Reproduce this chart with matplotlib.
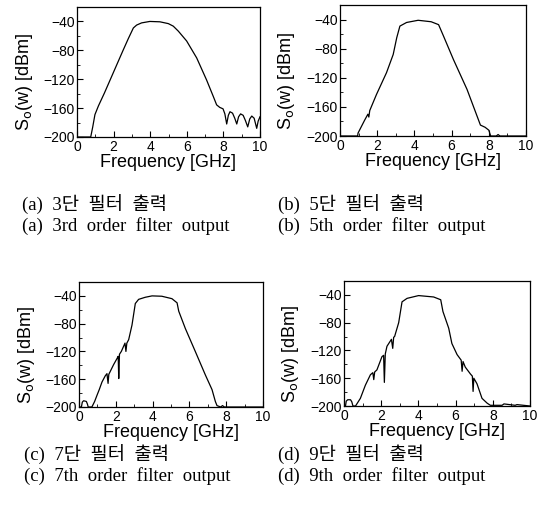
import matplotlib
matplotlib.use("Agg")
from matplotlib import pyplot as plt
from matplotlib.ticker import MultipleLocator

# panel (a) 3rd order
freq_a = [0, 0.75, 0.86, 0.98, 1.17, 1.5, 2.0, 2.5, 2.8, 3.08, 3.26, 3.53, 3.98, 4.53, 4.99, 5.26,
          5.54, 5.99, 6.54, 7.08, 7.45, 7.63, 7.8, 7.98, 8.08, 8.18, 8.27, 8.36, 8.5, 8.62, 8.73,
          8.83, 8.94, 9.08, 9.2, 9.33, 9.44, 9.55, 9.68, 9.82, 9.9, 10]
level_a = [-200, -200, -186, -169, -157, -139, -110, -81, -64, -49, -45, -42, -40, -40.5, -43, -46.5,
           -53.5, -67, -90.5, -121, -144, -155.5, -159, -161, -168, -182, -170, -165, -167, -174, -182,
           -172, -168, -170, -177, -186, -175, -171, -174, -188, -178, -172]

# panel (b) 5th order
freq_b = [0, 0.95, 0.97, 1.05, 1.15, 1.33, 1.5, 1.55, 1.6, 1.96, 2.5, 2.86, 3.05, 3.22, 3.58, 4.2,
          4.9, 5.3, 5.57, 6.1, 6.83, 7.55, 7.8, 8.0, 8.1, 8.4, 8.5, 8.6, 10]
level_b = [-200, -200, -196, -192, -187, -178, -170, -174, -165, -143, -113, -88, -65, -49, -44, -41,
           -43, -47, -63, -95, -136, -185, -188, -192, -200, -200, -198, -200, -200]

# panel (c) 7th order
freq_c = [0, 0.13, 0.18, 0.25, 0.4, 0.46, 0.5, 0.7, 0.85, 0.98, 1.1, 1.25, 1.43, 1.52, 1.58, 1.62,
          1.88, 2.07, 2.13, 2.16, 2.2, 2.3, 2.5, 2.55, 2.6, 2.7, 2.88, 3.06, 3.24, 3.6, 3.97, 4.5,
          5.05, 5.33, 5.42, 5.78, 6.32, 6.87, 7.23, 7.41, 7.5, 7.7, 7.8, 7.9, 10]
level_c = [-200, -200, -193, -191, -192, -196, -200, -200, -192, -183, -175, -164, -155, -152, -166, -153,
           -139, -130, -127, -159, -124, -120, -108, -120, -108, -103, -82, -51, -45, -42, -40, -40.5,
           -44, -50, -62, -87, -120, -154, -175, -192, -198, -200, -198, -200, -200]

# panel (d) 9th order
freq_d = [0, 0.08, 0.12, 0.2, 0.35, 0.42, 0.48, 0.62, 0.88, 1.15, 1.42, 1.55, 1.6, 1.65, 1.77, 2.04,
          2.13, 2.17, 2.22, 2.31, 2.55, 2.62, 2.67, 2.72, 2.94, 3.12, 3.39, 4.01, 4.82, 5.2, 5.32,
          5.63, 5.8, 6.08, 6.3, 6.35, 6.4, 6.52, 6.8, 6.9, 6.94, 6.98, 7.15, 7.42, 7.7, 7.87, 8.5,
          8.6, 9.2, 9.3, 10]
level_d = [-200, -200, -193, -191, -191, -194, -200, -200, -189, -170, -155, -152, -162, -151, -148, -129,
           -127, -166, -125, -114, -104, -117, -101, -100, -80, -50, -45, -41, -43, -47, -64,
           -88, -110, -126, -134, -150, -136, -144, -154, -157, -179, -160, -168, -189, -196, -199, -199,
           -197, -199, -198, -200]

captions_kr = ["(a)  3단  필터  출력", "(b)  5단  필터  출력", "(c)  7단  필터  출력", "(d)  9단  필터  출력"]
captions_en = ["(a)  3rd  order  filter  output", "(b)  5th  order  filter  output",
               "(c)  7th  order  filter  output", "(d)  9th  order  filter  output"]

W, H = 549, 516
# axes boxes in pixels: left, top, right, bottom
boxes = [(77, 7, 260, 137), (340, 5, 526, 136), (79, 282, 263, 407), (344, 281, 530, 406)]
cap_pos = [(22, 205, 226), (278, 205, 226), (24, 455, 476), (278, 455, 476)]

plt.rcParams['font.family'] = ['Liberation Sans', 'DejaVu Sans']
fig = plt.figure(figsize=(W / 100, H / 100), dpi=100)

series = [(freq_a, level_a), (freq_b, level_b), (freq_c, level_c), (freq_d, level_d)]
for i, (fx, lv) in enumerate(series):
    l, t, r, b = boxes[i]
    ax = fig.add_axes([l / W, 1 - b / H, (r - l) / W, (b - t) / H])
    ax.plot(fx, lv, color='black', lw=0.9)
    ax.set_xlim(0, 10)
    ax.set_ylim(-200, -20)
    ax.xaxis.set_major_locator(MultipleLocator(2))
    ax.xaxis.set_minor_locator(MultipleLocator(1))
    ax.yaxis.set_minor_locator(MultipleLocator(20))
    ax.set_yticks([-200, -160, -120, -80, -40])
    ax.tick_params(which='both', direction='in', top=False, right=False, labelsize=10)
    ax.tick_params(axis='y', pad=1.5)
    ax.tick_params(axis='x', pad=2)
    ax.tick_params(which='major', length=4, width=0.8)
    ax.tick_params(which='minor', length=2, width=0.6)
    for s in ax.spines.values():
        s.set_linewidth(0.9)
    ax.set_xlabel("Frequency [GHz]", fontsize=13, labelpad=0)
    ax.set_ylabel(r"S$_\mathrm{o}$(w) [dBm]", fontsize=13)
    ax.yaxis.set_label_coords(-0.23, 0.42)

    cx, ykr, yen = cap_pos[i]
    fig.text(cx / W, 1 - ykr / H, captions_kr[i], fontsize=13.5, va='center', ha='left',
             family=['Liberation Serif', 'Noto Sans CJK KR'])
    fig.text(cx / W, 1 - yen / H, captions_en[i], fontsize=13.5, va='center', ha='left',
             family=['Liberation Serif', 'Noto Sans CJK KR'])

fig.savefig("out.png", dpi=100)
